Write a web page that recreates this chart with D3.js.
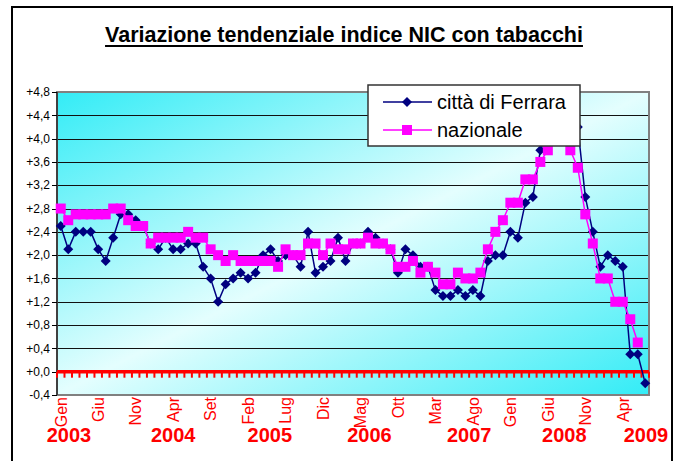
<!DOCTYPE html>
<html>
<head>
<meta charset="utf-8">
<script src="https://cdn.jsdelivr.net/npm/d3@7/dist/d3.min.js"></script>
<style>
body { margin: 0; background: #fff; }
svg { display: block; font-family: Arial, "Liberation Sans", sans-serif; }
</style>
</head>
<body>
<div id="chart"></div>
<script>
// etichette dei mesi (asse x)
var monthNames = ["Gen", "Feb", "Mar", "Apr", "Mag", "Giu", "Lug", "Ago", "Set", "Ott", "Nov", "Dic"];
var years = ["2003", "2004", "2005", "2006", "2007", "2008", "2009"];
var yTicks = [-0.4, 0.0, 0.4, 0.8, 1.2, 1.6, 2.0, 2.4, 2.8, 3.2, 3.6, 4.0, 4.4, 4.8];

// variazione tendenziale, gen 2003 - lug 2009
var ferrara = [
	2.5, 2.1, 2.4, 2.4, 2.4, 2.1, 1.9, 2.3, 2.7, 2.7, 2.6, 2.5,
	2.2, 2.1, 2.3, 2.1, 2.1, 2.2, 2.2, 1.8, 1.6, 1.2, 1.5, 1.6,
	1.7, 1.6, 1.7, 2.0, 2.1, 1.9, 2.0, 2.0, 1.8, 2.4, 1.7, 1.8,
	1.9, 2.3, 1.9, 2.2, 2.2, 2.4, 2.3, 2.2, 2.1, 1.7, 2.1, 2.0,
	1.8, 1.8, 1.4, 1.3, 1.3, 1.4, 1.3, 1.4, 1.3, 1.9, 2.0, 2.0,
	2.4, 2.3, 2.9, 3.0, 3.8, 4.1, 4.3, 4.3, 4.3, 4.2, 3.0, 2.4,
	1.8, 2.0, 1.9, 1.8, 0.3, 0.3, -0.2
];
// gen 2003 - giu 2009
var nazionale = [
	2.8, 2.6, 2.7, 2.7, 2.7, 2.7, 2.7, 2.8, 2.8, 2.6, 2.5, 2.5,
	2.2, 2.3, 2.3, 2.3, 2.3, 2.4, 2.3, 2.3, 2.1, 2.0, 1.9, 2.0,
	1.9, 1.9, 1.9, 1.9, 1.9, 1.8, 2.1, 2.0, 2.0, 2.2, 2.2, 2.0,
	2.2, 2.1, 2.1, 2.2, 2.2, 2.3, 2.2, 2.2, 2.1, 1.8, 1.8, 1.9,
	1.7, 1.8, 1.7, 1.5, 1.5, 1.7, 1.6, 1.6, 1.7, 2.1, 2.4, 2.6,
	2.9, 2.9, 3.3, 3.3, 3.6, 3.8, 4.1, 4.1, 3.8, 3.5, 2.7, 2.2,
	1.6, 1.6, 1.2, 1.2, 0.9, 0.5
];
// posizione delle etichette degli anni (in mesi dall'inizio)
var yearPos = [1.1, 15, 27.9, 41.2, 54.5, 67.2, 78.1];

var W = 680, H = 461;
var plot = {left: 57, right: 649, top: 92, bottom: 395};

var svg = d3.select("#chart").append("svg")
	.attr("width", W)
	.attr("height", H);

// cornice esterna
svg.append("rect")
	.attr("x", 12).attr("y", 7)
	.attr("width", 660).attr("height", 470)
	.attr("fill", "#fff")
	.attr("stroke", "#000")
	.attr("stroke-width", 2);

var x = d3.scaleBand()
	.domain(d3.range(ferrara.length))
	.range([plot.left, plot.right]);
var xc = function(i) { return x(i) + x.bandwidth() / 2; };
var y = d3.scaleLinear()
	.domain([yTicks[0], yTicks[yTicks.length - 1]])
	.range([plot.bottom, plot.top]);

// sfondo sfumato
var defs = svg.append("defs");
var grad = defs.append("linearGradient")
	.attr("id", "bg")
	.attr("x1", "0%").attr("y1", "0%")
	.attr("x2", "100%").attr("y2", "100%");
grad.append("stop").attr("offset", "0%").attr("stop-color", "#33ecf6");
grad.append("stop").attr("offset", "50%").attr("stop-color", "#e4fefe");
grad.append("stop").attr("offset", "100%").attr("stop-color", "#33ecf6");

svg.append("rect")
	.attr("x", plot.left).attr("y", plot.top)
	.attr("width", plot.right - plot.left)
	.attr("height", plot.bottom - plot.top)
	.attr("fill", "url(#bg)");

// griglia
svg.append("g").selectAll("line")
	.data(yTicks.slice(1, -1))
	.enter().append("line")
	.attr("x1", plot.left).attr("x2", plot.right)
	.attr("y1", function(d) { return Math.round(y(d)) + 0.5; })
	.attr("y2", function(d) { return Math.round(y(d)) + 0.5; })
	.attr("stroke", "#111")
	.attr("stroke-width", 1);

// bordo area del grafico
svg.append("rect")
	.attr("x", plot.left).attr("y", plot.top)
	.attr("width", plot.right - plot.left)
	.attr("height", plot.bottom - plot.top)
	.attr("fill", "none")
	.attr("stroke", "#808080")
	.attr("stroke-width", 2);

// asse y
var fmt = function(v) {
	var s = Math.abs(v).toFixed(1).replace(".", ",");
	return (v < 0 ? "-" : "+") + s;
};
svg.append("line")
	.attr("x1", plot.left).attr("x2", plot.left)
	.attr("y1", plot.top).attr("y2", plot.bottom)
	.attr("stroke", "#000");
var yAx = svg.append("g");
yAx.selectAll("line")
	.data(yTicks)
	.enter().append("line")
	.attr("x1", plot.left - 5).attr("x2", plot.left)
	.attr("y1", function(d) { return Math.round(y(d)) + 0.5; })
	.attr("y2", function(d) { return Math.round(y(d)) + 0.5; })
	.attr("stroke", "#000");
yAx.selectAll("text")
	.data(yTicks)
	.enter().append("text")
	.attr("x", plot.left - 7)
	.attr("y", function(d) { return y(d); })
	.attr("dy", "0.35em")
	.style("text-anchor", "end")
	.style("font-size", "12px")
	.text(fmt);

// asse x (rosso, a quota zero)
var y0 = y(0);
svg.append("g").selectAll("line")
	.data(d3.range(ferrara.length + 1))
	.enter().append("line")
	.attr("x1", function(i) { return plot.left + i * x.bandwidth(); })
	.attr("x2", function(i) { return plot.left + i * x.bandwidth(); })
	.attr("y1", y0).attr("y2", y0 + 6)
	.attr("stroke", "#ff0000")
	.attr("stroke-width", 2);
svg.append("line")
	.attr("x1", plot.left).attr("x2", plot.right)
	.attr("y1", y0).attr("y2", y0)
	.attr("stroke", "#ff0000")
	.attr("stroke-width", 3.5);

svg.append("g").selectAll("text")
	.data(d3.range(0, ferrara.length, 5))
	.enter().append("text")
	.attr("transform", function(i) { return "translate(" + xc(i) + "," + (plot.bottom + 2) + ") rotate(-90)"; })
	.attr("dy", "0.36em")
	.style("text-anchor", "end")
	.style("font-size", "16px")
	.style("fill", "#ff0000")
	.text(function(i) { return monthNames[i % 12]; });

svg.append("g").selectAll("text")
	.data(years)
	.enter().append("text")
	.attr("x", function(d, k) { return plot.left + (yearPos[k] + 0.5) * x.bandwidth(); })
	.attr("y", 442)
	.style("text-anchor", "middle")
	.style("font-size", "20px")
	.style("font-weight", "bold")
	.style("fill", "#ff0000")
	.text(function(d) { return d; });

// serie
var line = d3.line()
	.x(function(d, i) { return xc(i); })
	.y(function(d) { return y(d); });

var diamond = "M0,-5L5,0L0,5L-5,0Z";

var s1 = svg.append("g");
s1.append("path")
	.attr("d", line(ferrara))
	.attr("fill", "none")
	.attr("stroke", "#000080")
	.attr("stroke-width", 1.5);
s1.selectAll("path.m")
	.data(ferrara)
	.enter().append("path")
	.attr("class", "m")
	.attr("d", diamond)
	.attr("transform", function(d, i) { return "translate(" + xc(i) + "," + y(d) + ")"; })
	.attr("fill", "#000080");

var s2 = svg.append("g");
s2.append("path")
	.attr("d", line(nazionale))
	.attr("fill", "none")
	.attr("stroke", "#ff00ff")
	.attr("stroke-width", 1.5);
s2.selectAll("rect")
	.data(nazionale)
	.enter().append("rect")
	.attr("x", function(d, i) { return xc(i) - 5; })
	.attr("y", function(d) { return y(d) - 5; })
	.attr("width", 10).attr("height", 10)
	.attr("fill", "#ff00ff");

// legenda
var lg = svg.append("g").attr("transform", "translate(368,85)");
lg.append("rect")
	.attr("width", 212).attr("height", 61)
	.attr("fill", "#fff")
	.attr("stroke", "#333")
	.attr("stroke-width", 1.5);
var items = [
	{name: "città di Ferrara", color: "#000080", mark: "diamond"},
	{name: "nazionale", color: "#ff00ff", mark: "square"}
];
items.forEach(function(it, k) {
	var ly = 17 + k * 28;
	lg.append("line")
		.attr("x1", 15).attr("x2", 64)
		.attr("y1", ly).attr("y2", ly)
		.attr("stroke", it.color)
		.attr("stroke-width", 1.5);
	if (it.mark == "diamond") {
		lg.append("path").attr("d", diamond)
			.attr("transform", "translate(39," + ly + ")")
			.attr("fill", it.color);
	} else {
		lg.append("rect")
			.attr("x", 34).attr("y", ly - 5)
			.attr("width", 10).attr("height", 10)
			.attr("fill", it.color);
	}
	lg.append("text")
		.attr("x", 69).attr("y", ly)
		.attr("dy", "0.35em")
		.style("font-size", "20px")
		.text(it.name);
});

// titolo
var title = svg.append("text")
	.attr("x", 344).attr("y", 42)
	.style("text-anchor", "middle")
	.style("font-size", "21.5px")
	.style("font-weight", "bold")
	.text("Variazione tendenziale indice NIC con tabacchi");
var tw = title.node().getComputedTextLength();
svg.append("line")
	.attr("x1", 344 - tw / 2).attr("x2", 344 + tw / 2)
	.attr("y1", 46).attr("y2", 46)
	.attr("stroke", "#000")
	.attr("stroke-width", 2);
</script>
</body>
</html>
